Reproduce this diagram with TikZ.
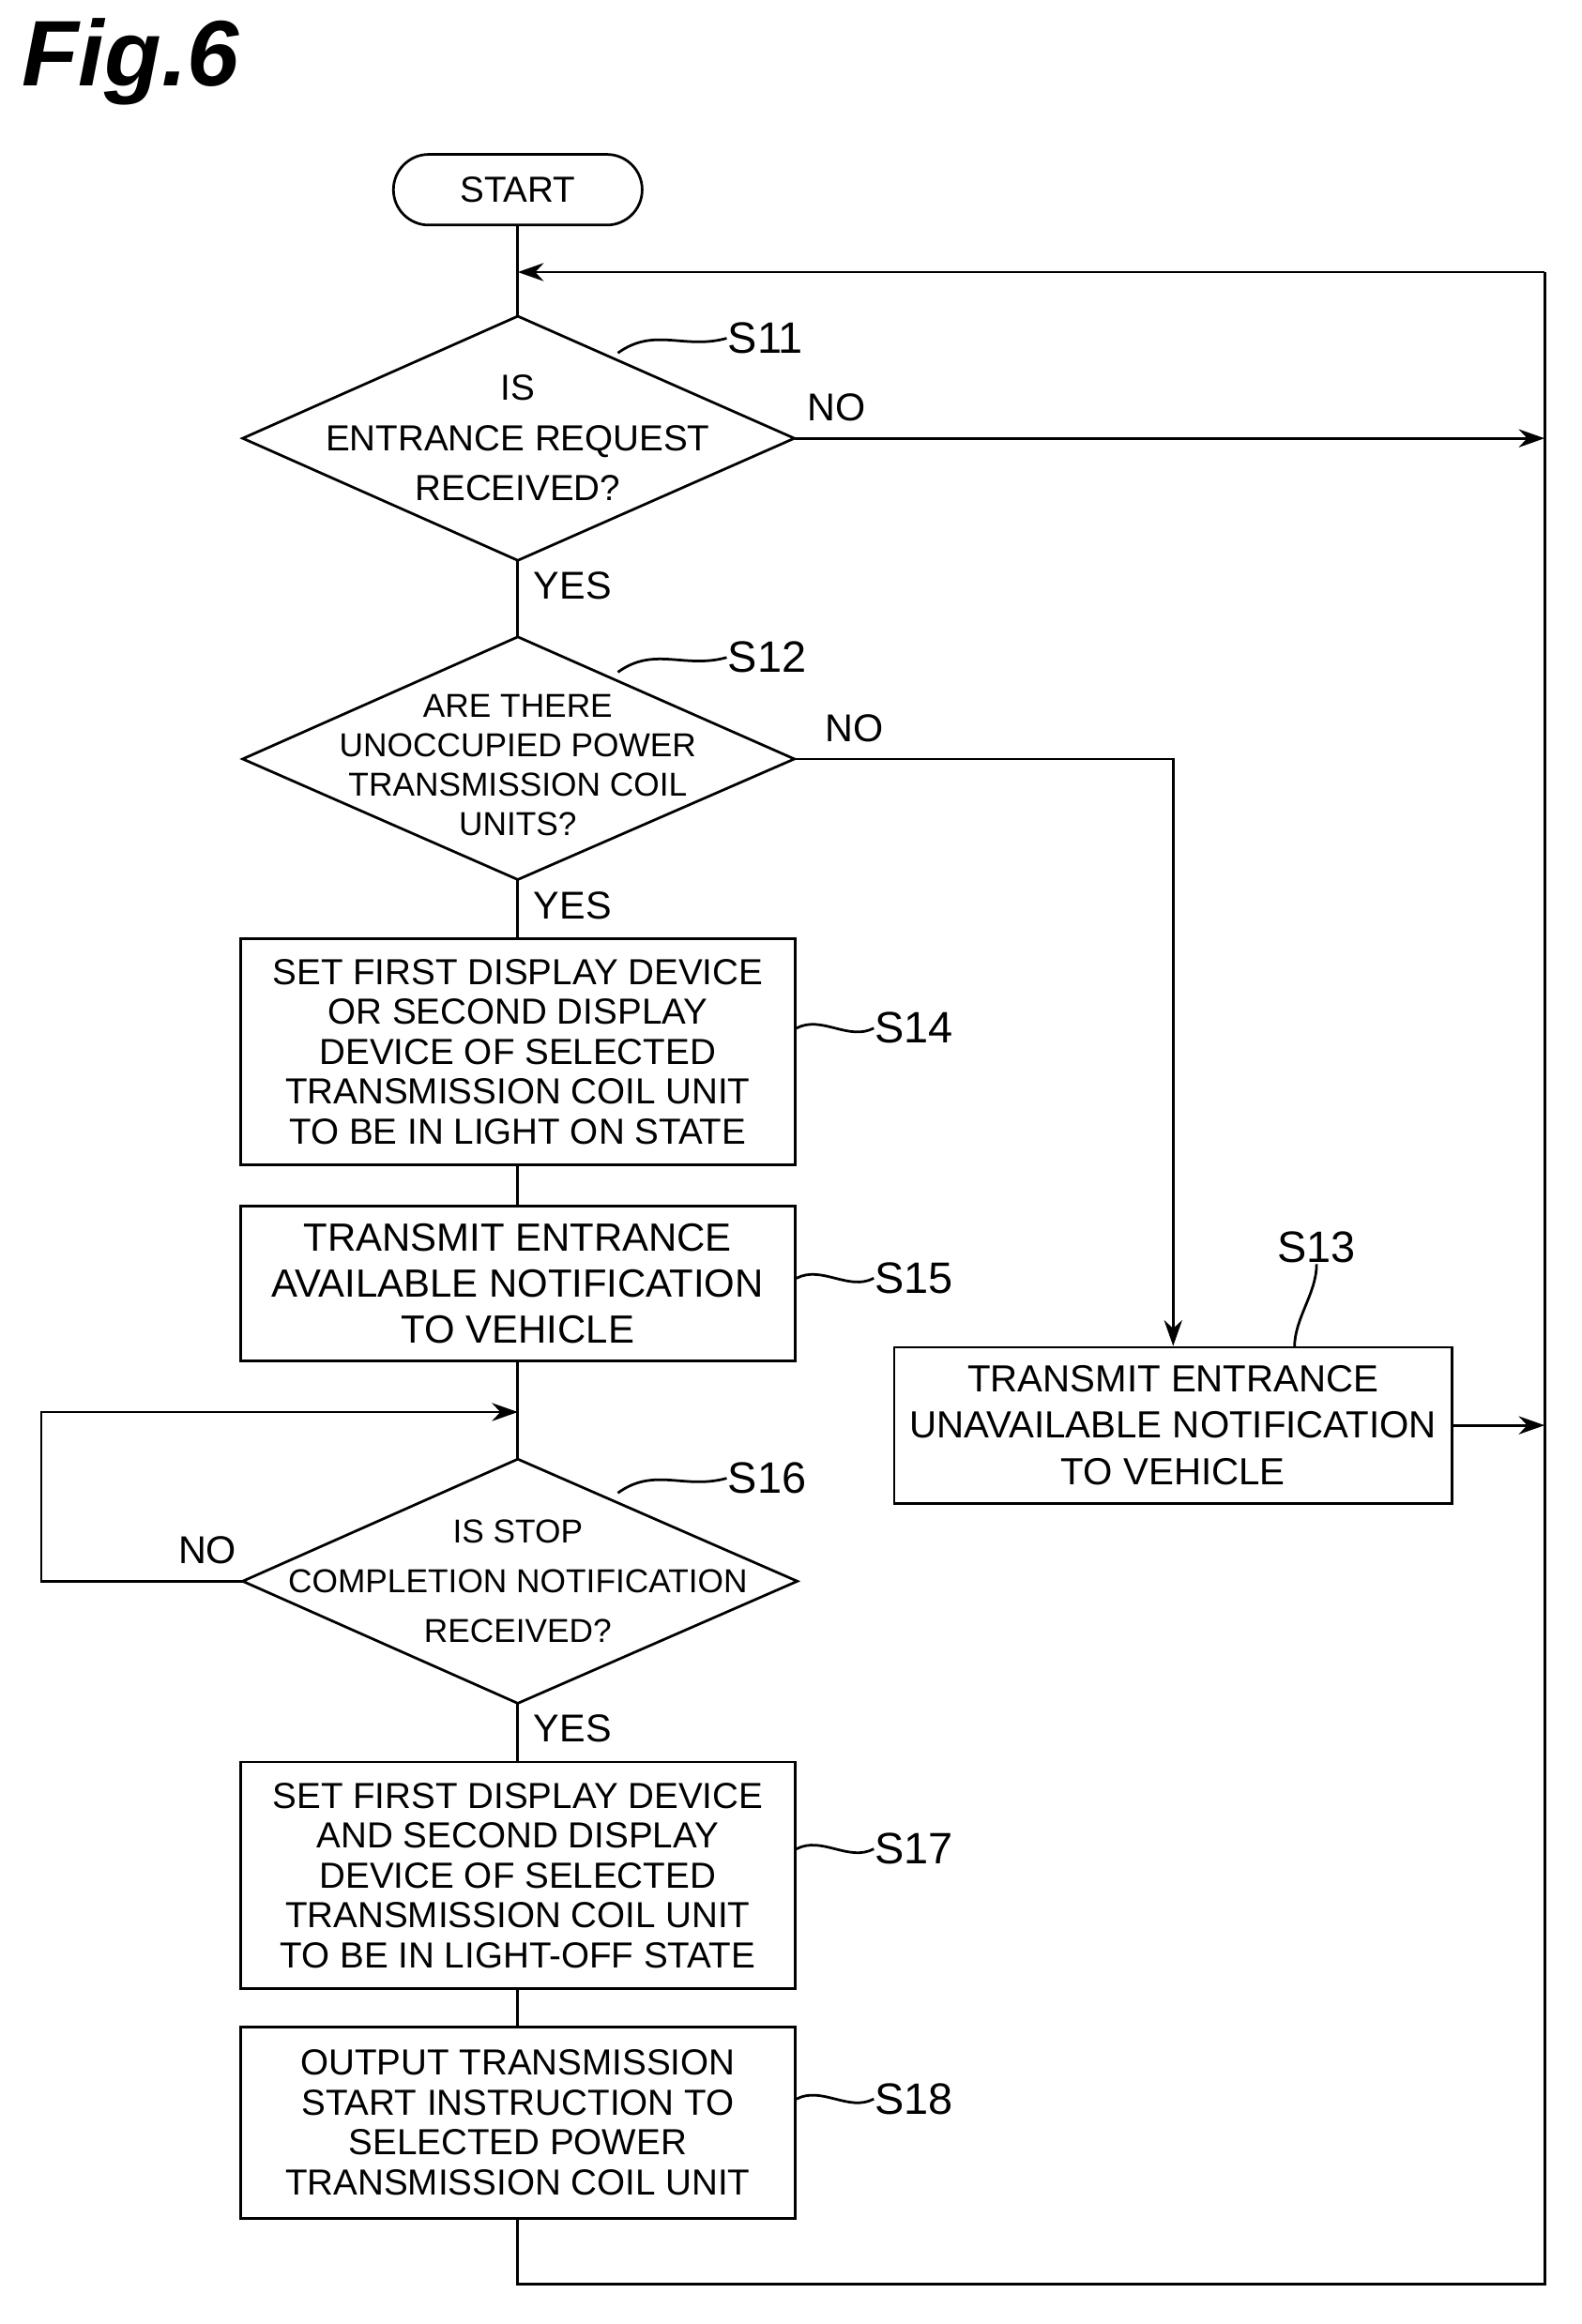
\documentclass[tikz,border=0pt]{standalone}
\usepackage{fontspec}
\setmainfont{Liberation Sans}
\usetikzlibrary{arrows.meta}
\begin{document}
\begin{tikzpicture}[x=0.01cm,y=-0.01cm,line width=0.5pt,
  txt/.style={font=\fontsize{7}{7.7}\selectfont,align=center,inner sep=0},
  box/.style={draw,minimum width=3.77cm,txt},
  lab/.style={font=\fontsize{8.5}{9}\selectfont,inner sep=0},
  yn/.style={font=\fontsize{7.5}{8}\selectfont,inner sep=0},
  arr/.style={-{Stealth[length=5pt,width=3.5pt]}}]
\useasboundingbox (0,0) rectangle (1075,1580);
\node[font=\fontsize{18}{19}\selectfont\bfseries\itshape,anchor=west,inner sep=0] (fig) at (14,42) {Fig.6};
\node[draw,rounded corners=0.24cm,minimum width=1.69cm,minimum height=0.48cm,txt] (start) at (352,129) {START};
% diamonds
\coordinate (d1t) at (352,215); \coordinate (d1b) at (352,381);
\coordinate (d1l) at (165,298); \coordinate (d1r) at (540,298);
\draw (d1t)--(d1r)--(d1b)--(d1l)--cycle;
\node[txt] (t11) at (352,298) {IS\\[2pt]ENTRANCE REQUEST\\[2pt]RECEIVED?};
\coordinate (d2t) at (352,433); \coordinate (d2b) at (352,598);
\coordinate (d2l) at (165,516); \coordinate (d2r) at (540,516);
\draw (d2t)--(d2r)--(d2b)--(d2l)--cycle;
\node[txt,font=\fontsize{6.4}{7.6}\selectfont] (t12) at (352,520) {ARE THERE\\UNOCCUPIED POWER\\TRANSMISSION COIL\\UNITS?};
\coordinate (d3t) at (352,992); \coordinate (d3b) at (352,1158);
\coordinate (d3l) at (165,1075); \coordinate (d3r) at (542,1075);
\draw (d3t)--(d3r)--(d3b)--(d3l)--cycle;
\node[txt,font=\fontsize{6.4}{7.6}\selectfont] (t16) at (352,1075) {IS STOP\\[2pt]COMPLETION NOTIFICATION\\[2pt]RECEIVED?};
% boxes
\node[box,minimum height=1.54cm] (s14) at (352,715) {SET FIRST DISPLAY DEVICE\\OR SECOND DISPLAY\\DEVICE OF SELECTED\\TRANSMISSION COIL UNIT\\TO BE IN LIGHT ON STATE};
\node[box,minimum height=1.05cm,font=\fontsize{7.6}{8.9}\selectfont] (s15) at (352,872.5) {TRANSMIT ENTRANCE\\AVAILABLE NOTIFICATION\\TO VEHICLE};
\node[box,minimum height=1.54cm] (s17) at (352,1275) {SET FIRST DISPLAY DEVICE\\AND SECOND DISPLAY\\DEVICE OF SELECTED\\TRANSMISSION COIL UNIT\\TO BE IN LIGHT-OFF STATE};
\node[box,minimum height=1.30cm] (s18) at (352,1443) {OUTPUT TRANSMISSION\\START INSTRUCTION TO\\SELECTED POWER\\TRANSMISSION COIL UNIT};
\node[box,minimum width=3.79cm,minimum height=1.06cm,font=\fontsize{7.3}{8.9}\selectfont] (s13) at (797.5,969) {TRANSMIT ENTRANCE\\UNAVAILABLE NOTIFICATION\\TO VEHICLE};
% flow
\coordinate (top) at (352,185); \coordinate (rtop) at (1050,185);
\coordinate (rbot) at (1050,1553); \coordinate (bot) at (352,1553);
\coordinate (no1) at (1050,298); \coordinate (no2) at (797.5,516);
\coordinate (r13) at (1050,969);
\coordinate (m16) at (352,960); \coordinate (lp1) at (28,1075); \coordinate (lp2) at (28,960);
\draw (start.south)--(d1t);
\draw[arr] (rtop)--(top);
\draw (s18.south)--(bot)--(rbot)--(rtop);
\draw[arr] (d1r)--(no1);
\draw (d1b)--(d2t);
\draw[arr] (d2r)--(no2)--(s13.north);
\draw (d2b)--(s14.north);
\draw (s14.south)--(s15.north);
\draw (s15.south)--(d3t);
\draw[arr] (d3l)--(lp1)--(lp2)--(m16);
\draw (d3b)--(s17.north);
\draw (s17.south)--(s18.north);
\draw[arr] (s13.east)--(r13);
% yes/no
\node[yn,anchor=west] (n1) at (548,277) {NO};
\node[yn,anchor=west] (n2) at (560,495) {NO};
\node[yn] (n3) at (141,1054) {NO};
\node[yn,anchor=west] (y1) at (362,398) {YES};
\node[yn,anchor=west] (y2) at (362,616) {YES};
\node[yn,anchor=west] (y3) at (362,1175) {YES};
% step labels
\node[lab,anchor=west] (l11) at (494,230) {S11};
\node[lab,anchor=west] (l12) at (494,447) {S12};
\node[lab,anchor=west] (l16) at (494,1005) {S16};
\node[lab,anchor=west] (l14) at (594,699) {S14};
\node[lab,anchor=west] (l15) at (594,869) {S15};
\node[lab,anchor=west] (l17) at (594,1257) {S17};
\node[lab,anchor=west] (l18) at (594,1427) {S18};
\node[lab] (l13) at (895,848) {S13};
\coordinate (a11) at (420,240); \coordinate (a12) at (420,457); \coordinate (a16) at (420,1015);
\draw (a11) .. controls (445,222) and (465,238) .. (l11.west);
\draw (a12) .. controls (445,439) and (465,455) .. (l12.west);
\draw (a16) .. controls (445,997) and (465,1013) .. (l16.west);
\foreach \b/\l in {s14/l14,s15/l15,s17/l17,s18/l18}
  \draw (\b.east |- \l.west) .. controls +(17,-9) and +(-17,9) .. (\l.west);
\coordinate (a13) at (880,916);
\draw (l13.south) .. controls +(0,20) and +(0,-20) .. (a13);
\end{tikzpicture}
\end{document}
